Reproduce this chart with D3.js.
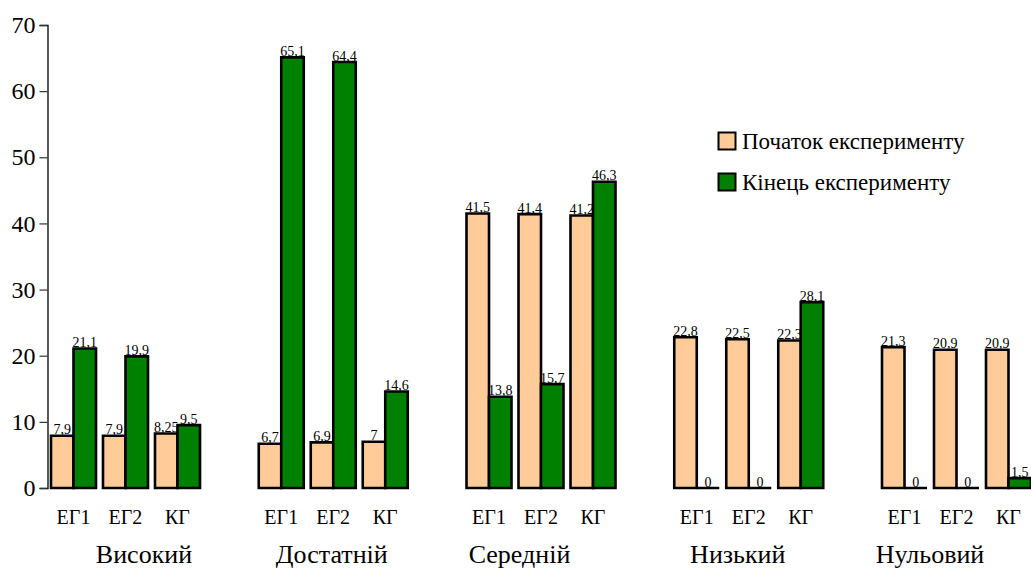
<!DOCTYPE html>
<html lang="uk">
<head>
<meta charset="utf-8">
<script src="https://cdn.jsdelivr.net/npm/d3@7"></script>
<style>
  html, body { margin: 0; padding: 0; background: #fff; font-family: "Liberation Serif"; }
  svg { display: block; font-family: "Liberation Serif"; }
  svg text { font-family: "Liberation Serif" !important; }
</style>
</head>
<body>
<svg id="chart" width="1031" height="569" font-family="Liberation Serif"></svg>
<script>
// Рівні сформованості, групи та етапи експерименту
const levels = ["Високий", "Достатній", "Середній", "Низький", "Нульовий"];
const groups = ["ЕГ1", "ЕГ2", "КГ"];
const seriesNames = ["Початок експерименту", "Кінець експерименту"];

// Значення, % (рядок — рівень, стовпець — група)
const startValues = [
  [7.9, 7.9, 8.25],
  [6.7, 6.9, 7],
  [41.5, 41.4, 41.2],
  [22.8, 22.5, 22.3],
  [21.3, 20.9, 20.9]
];
const endValues = [
  [21.1, 19.9, 9.5],
  [65.1, 64.4, 14.6],
  [13.8, 15.7, 46.3],
  [0, 0, 28.1],
  [0, 0, 1.5]
];
const yTicks = [0, 10, 20, 30, 40, 50, 60, 70];

const FONT = "Liberation Serif";
const colors = ["#FFCC99", "#008000"];
const root = d3.select("#chart").append("g");

// Шкали
const x0 = d3.scaleBand().domain(levels).range([51, 1031]).paddingInner(0.2828).paddingOuter(0);
const x1 = d3.scaleBand().domain(groups).range([0, x0.bandwidth()]).paddingInner(0.1346).paddingOuter(0);
const x2 = d3.scaleBand().domain(seriesNames).range([0, x1.bandwidth()]).padding(0);
const y = d3.scaleLinear().domain([0, 70]).range([488, 25]);

// Вісь Y
const yAxis = root.append("g")
  .attr("transform", "translate(47.5,0)")
  .call(d3.axisLeft(y).tickValues(yTicks).tickSize(8).tickPadding(4).tickFormat(d3.format("d")));
yAxis.attr("font-family", FONT).attr("font-size", 24);
yAxis.select(".domain").attr("stroke", "#000").attr("stroke-width", 1.3);
yAxis.selectAll(".tick line").attr("stroke", "#333").attr("stroke-width", 1.2);
yAxis.selectAll(".tick text").attr("fill", "#000").style("font-family", FONT);

// Стовпці: дані у плоскому вигляді
const rows = [];
levels.forEach((lvl, i) => {
  groups.forEach((g, j) => {
    rows.push({ level: lvl, group: g, s: 0, value: startValues[i][j] });
    rows.push({ level: lvl, group: g, s: 1, value: endValues[i][j] });
  });
});

const fmt = v => String(v).replace(".", ",");
const barX = d => x0(d.level) + x1(d.group) + x2(seriesNames[d.s]);
const barPath = d => {
  const xa = barX(d);
  const xb = xa + x2.bandwidth();
  const y0 = y(0), yv = y(d.value);
  return `M${xa},${y0}V${yv}H${xb}V${y0}Z`;
};

// Спершу початкові значення, потім кінцеві (перекривають підписи сусідів)
[0, 1].forEach(s => {
  const subset = rows.filter(d => d.s === s);
  root.append("g").selectAll("path")
    .data(subset)
    .join("path")
    .attr("d", barPath)
    .attr("fill", colors[s])
    .attr("stroke", "#000")
    .attr("stroke-width", 2.6)
    .attr("stroke-linejoin", "miter");
  root.append("g")
    .selectAll("text")
    .data(subset)
    .join("text")
    .attr("x", d => barX(d) + x2.bandwidth() / 2)
    .attr("y", d => y(d.value) - 1.5)
    .attr("text-anchor", "middle")
    .attr("fill", "#000")
    .style("font-family", FONT)
    .style("font-size", "14px")
    .text(d => fmt(d.value));
});

// Підписи груп
const gLabels = root.append("g");
levels.forEach(lvl => {
  gLabels.selectAll(null)
    .data(groups)
    .join("text")
    .attr("x", g => x0(lvl) + x1(g) + x1.bandwidth() / 2)
    .attr("y", 523.5)
    .attr("text-anchor", "middle")
    .attr("fill", "#000")
    .style("font-family", FONT)
    .style("font-size", "20px")
    .text(g => g);
});

// Підписи рівнів (зсув відносно центру блоку)
const levelShift = [18.5, -1.5, -21.5, -11, -26.5];
root.append("g")
  .selectAll("text")
  .data(levels)
  .join("text")
  .attr("x", (d, i) => x0(d) + x0.bandwidth() / 2 + levelShift[i])
  .attr("y", 563)
  .attr("text-anchor", "middle")
  .attr("fill", "#000")
  .style("font-family", FONT)
  .style("font-size", "26px")
  .text(d => d);

// Легенда
const legend = root.append("g").attr("transform", "translate(718,132)");
const items = legend.selectAll("g")
  .data(seriesNames)
  .join("g")
  .attr("transform", (d, i) => `translate(0,${i * 41})`);
items.append("rect")
  .attr("x", 0.5).attr("y", 0.5)
  .attr("width", 17).attr("height", 17)
  .attr("fill", (d, i) => colors[i])
  .attr("stroke", "#000")
  .attr("stroke-width", 2);
items.append("text")
  .attr("x", 24)
  .attr("y", 17)
  .attr("fill", "#000")
  .style("font-family", FONT)
  .style("font-size", "23px")
  .text(d => d);
</script>
</body>
</html>
